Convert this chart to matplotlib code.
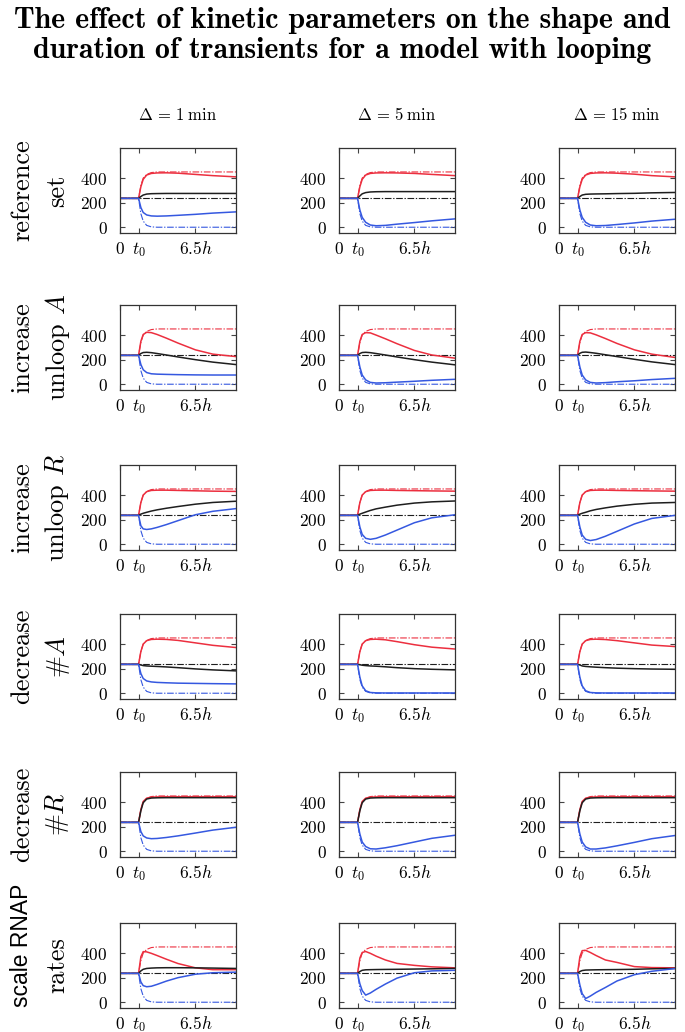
import matplotlib
matplotlib.use("Agg")
import matplotlib.pyplot as plt

plt.rcParams["mathtext.fontset"] = "cm"
plt.rcParams["font.family"] = "cmr10"
plt.rcParams["axes.formatter.use_mathtext"] = True
plt.rcParams["axes.unicode_minus"] = False

# time grid in hours, switch happens at t0
t_h = [0, 1.6, 1.8, 2.0, 2.3, 2.7, 3.2, 4.0, 5.0, 6.5, 8.0, 10.0]
t0 = 1.6

# dash-dot curves (new steady states), same in every panel
ss_red = [235, 235, 340, 400, 430, 445, 450, 450, 450, 450, 450, 450]
ss_black = [235, 235, 235, 235, 235, 235, 235, 235, 235, 235, 235, 235]
ss_blue = [235, 235, 110, 50, 15, 3, 0, 0, 0, 0, 0, 0]

col_titles = [r"$\Delta\,=\,1\;\mathrm{min}$", r"$\Delta\,=\,5\;\mathrm{min}$",
              r"$\Delta\,=\,15\;\mathrm{min}$"]
row_line1 = ["reference", "increase", "increase", "decrease", "decrease", "scale RNAP"]
row_line2 = ["set", r"unloop $A$", r"unloop $R$", r"#$A$", r"#$R$", "rates"]

# solid curves: one list per row and species, columns Delta = 1, 5, 15 min
red_reference = [[235, 235, 330, 390, 425, 438, 442, 443, 440, 430, 420, 410],
                 [235, 235, 330, 390, 425, 438, 442, 443, 442, 438, 430, 420],
                 [235, 235, 330, 390, 425, 438, 442, 443, 440, 432, 420, 410]]
black_reference = [[235, 235, 250, 262, 270, 273, 274, 275, 275, 275, 275, 275],
                   [235, 235, 255, 272, 282, 287, 289, 290, 290, 290, 290, 290],
                   [235, 235, 250, 262, 268, 270, 271, 272, 274, 276, 280, 283]]
blue_reference = [[235, 235, 160, 120, 100, 92, 90, 92, 97, 105, 115, 125],
                  [235, 235, 140, 80, 40, 18, 12, 15, 25, 38, 52, 68],
                  [235, 235, 140, 80, 40, 18, 12, 14, 22, 35, 50, 65]]

red_unloop_a = [[235, 235, 350, 405, 423, 420, 405, 375, 335, 280, 245, 225],
                [235, 235, 350, 405, 420, 418, 400, 370, 330, 275, 238, 212],
                [235, 235, 350, 405, 420, 418, 402, 372, 332, 280, 245, 218]]
black_unloop_a = [[235, 235, 250, 258, 260, 257, 250, 238, 222, 200, 180, 160],
                  [235, 235, 250, 258, 260, 257, 250, 238, 222, 200, 180, 158],
                  [235, 235, 252, 260, 262, 258, 252, 240, 225, 203, 182, 160]]
blue_unloop_a = [[235, 235, 160, 118, 95, 85, 82, 80, 78, 76, 75, 75],
                 [235, 235, 140, 75, 35, 15, 10, 12, 17, 24, 32, 40],
                 [235, 235, 140, 75, 35, 15, 10, 13, 20, 28, 38, 48]]

red_unloop_r = [[235, 235, 340, 400, 428, 438, 440, 440, 438, 435, 432, 430],
                [235, 235, 340, 400, 428, 438, 440, 440, 438, 436, 434, 432],
                [235, 235, 340, 400, 428, 438, 440, 440, 438, 436, 434, 432]]
black_unloop_r = [[235, 235, 245, 252, 260, 270, 280, 293, 307, 326, 340, 350],
                  [235, 235, 245, 252, 262, 275, 288, 302, 318, 335, 345, 352],
                  [235, 235, 245, 252, 260, 272, 283, 296, 310, 325, 335, 340]]
blue_unloop_r = [[235, 235, 150, 125, 120, 125, 137, 160, 192, 240, 268, 290],
                 [235, 235, 140, 80, 48, 40, 48, 75, 115, 175, 215, 240],
                 [235, 235, 140, 75, 40, 30, 38, 65, 105, 165, 210, 235]]

red_fewer_a = [[235, 235, 340, 400, 428, 438, 440, 438, 430, 410, 390, 372],
               [235, 235, 340, 400, 428, 438, 440, 435, 420, 395, 375, 360],
               [235, 235, 340, 400, 428, 438, 440, 437, 428, 410, 392, 380]]
black_fewer_a = [[235, 235, 230, 225, 222, 220, 218, 214, 208, 198, 190, 182],
                 [235, 235, 232, 228, 225, 222, 220, 215, 208, 200, 195, 190],
                 [235, 235, 230, 222, 218, 215, 212, 208, 204, 200, 197, 195]]
blue_fewer_a = [[235, 235, 160, 120, 100, 92, 88, 85, 82, 80, 78, 76],
                [235, 235, 130, 60, 20, 6, 3, 2, 2, 2, 2, 2],
                [235, 235, 130, 60, 20, 6, 3, 2, 2, 2, 2, 2]]

red_fewer_r = [[235, 235, 340, 405, 432, 440, 442, 443, 443, 443, 443, 443],
               [235, 235, 340, 405, 432, 440, 442, 443, 443, 443, 443, 443],
               [235, 235, 340, 405, 432, 440, 442, 443, 443, 443, 443, 443]]
black_fewer_r = [[235, 235, 330, 395, 425, 433, 435, 436, 436, 436, 436, 436],
                 [235, 235, 330, 395, 425, 433, 435, 436, 436, 436, 436, 436],
                 [235, 235, 330, 395, 425, 433, 435, 436, 436, 436, 436, 436]]
blue_fewer_r = [[235, 235, 160, 125, 108, 102, 104, 112, 125, 148, 172, 195],
                [235, 235, 140, 75, 38, 20, 18, 28, 45, 75, 105, 130],
                [235, 235, 140, 75, 35, 18, 18, 27, 44, 72, 102, 128]]

red_rnap = [[235, 235, 370, 412, 410, 398, 380, 350, 315, 280, 265, 265],
            [235, 235, 360, 405, 413, 398, 375, 344, 316, 300, 288, 280],
            [235, 235, 370, 420, 422, 405, 380, 344, 324, 290, 282, 280]]
black_rnap = [[235, 235, 255, 268, 275, 278, 280, 281, 281, 280, 278, 275],
              [235, 235, 250, 260, 264, 265, 266, 267, 268, 270, 272, 275],
              [235, 235, 250, 258, 262, 263, 264, 265, 266, 268, 272, 275]]
blue_rnap = [[235, 235, 165, 135, 126, 130, 145, 172, 200, 228, 240, 245],
             [235, 235, 150, 95, 58, 75, 105, 148, 196, 240, 255, 260],
             [235, 235, 140, 70, 30, 50, 80, 120, 173, 224, 252, 274]]

rows = [(red_reference, black_reference, blue_reference),
        (red_unloop_a, black_unloop_a, blue_unloop_a),
        (red_unloop_r, black_unloop_r, blue_unloop_r),
        (red_fewer_a, black_fewer_a, blue_fewer_a),
        (red_fewer_r, black_fewer_r, blue_fewer_r),
        (red_rnap, black_rnap, blue_rnap)]

RED = "#ec2f3f"
BLACK = "#1e1e1e"
BLUE = "#3558e0"
DASHDOT = (0, (6, 1.5, 1.2, 1.5))

W, H = 685, 1032
col_left = [120, 339, 559]
row_top = [148, 305, 465, 614, 772, 923]
box_w, box_h = 116, 85

fig = plt.figure(figsize=(W / 100, H / 100), dpi=100)

fig.text(0.5, 1 - 28 / H, "The effect of kinetic parameters on the shape and",
         ha="center", va="baseline", family="cmb10", fontsize=21.5)
fig.text(0.5, 1 - 58 / H, "duration of transients for a model with looping",
         ha="center", va="baseline", family="cmb10", fontsize=21.5)

for c in range(3):
    fig.text((col_left[c] + box_w / 2) / W, 1 - 115 / H, col_titles[c],
             ha="center", va="center", fontsize=12)

for r in range(6):
    yc = 1 - (row_top[r] + box_h / 2) / H
    if row_line1[r] == "scale RNAP":
        fig.text(22 / W, 1 - 945 / H, row_line1[r], rotation=90, ha="center",
                 va="center", family="Liberation Sans", fontsize=16.5)
    else:
        fig.text(22 / W, yc, row_line1[r], rotation=90, ha="center", va="center",
                 fontsize=19)
    fig.text(57 / W, yc, row_line2[r], rotation=90, ha="center", va="center",
             fontsize=19)

    red, black, blue = rows[r]
    for c in range(3):
        ax = fig.add_axes([col_left[c] / W, 1 - (row_top[r] + box_h) / H,
                           box_w / W, box_h / H])
        ax.plot(t_h, ss_red, color=RED, lw=0.8, ls=DASHDOT)
        ax.plot(t_h, ss_black, color=BLACK, lw=0.8, ls=DASHDOT)
        ax.plot(t_h, ss_blue, color=BLUE, lw=0.8, ls=DASHDOT)
        ax.plot(t_h, red[c], color=RED, lw=1.1)
        ax.plot(t_h, black[c], color=BLACK, lw=1.1)
        ax.plot(t_h, blue[c], color=BLUE, lw=1.1)

        ax.set_xlim(0, 10)
        ax.set_ylim(-47, 645)
        ax.set_xticks([0, t0, 6.5])
        ax.set_xticklabels(["$0$", "$t_0$", "$6.5h$"], fontsize=12.5)
        ax.set_yticks([0, 200, 400])
        ax.set_yticklabels(["$0$", "$200$", "$400$"], fontsize=12.5)
        ax.tick_params(direction="in", top=True, right=True, length=3.5,
                       width=0.8, color="#444444")
        ax.tick_params(axis="y", pad=9)
        ax.tick_params(axis="x", pad=15)
        for lab in ax.get_xticklabels():
            lab.set_verticalalignment("baseline")
        for s in ax.spines.values():
            s.set_color("#333333")
            s.set_linewidth(0.9)

fig.savefig("out.png", dpi=100)
